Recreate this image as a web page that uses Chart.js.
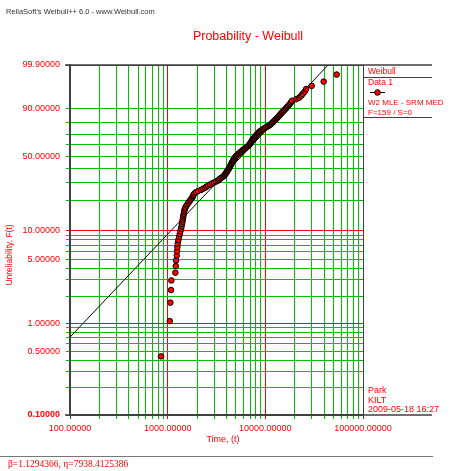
<!DOCTYPE html>
<html>
<head>
<meta charset="utf-8">
<script src="https://cdn.jsdelivr.net/npm/chart.js@4"></script>
<style>
  body { margin: 0; background: #fff; }
  canvas { display: block; }
</style>
</head>
<body>
<canvas id="weibull" width="450" height="471"></canvas>
<script>
// Weibull fit parameters (2-parameter MLE)
const beta = 1.1294366;
const eta = 7938.4125386;

// failure times, ascending (159 failures, no suspensions)
const failureTimes = [
  856, 1051, 1066, 1083, 1091, 1199, 1211, 1219, 1240, 1249,
  1258, 1269, 1287, 1309, 1330, 1349, 1372, 1388, 1404, 1414,
  1428, 1438, 1448, 1462, 1472, 1483, 1507, 1525, 1561, 1599,
  1637, 1676, 1716, 1758, 1799, 1821, 1842, 1886, 1954, 2048,
  2199, 2305, 2416, 2504, 2594, 2719, 2850, 2988, 3132, 3284,
  3362, 3443, 3567, 3670, 3785, 3837, 3892, 3947, 4003, 4060,
  4108, 4157, 4207, 4256, 4306, 4347, 4388, 4429, 4471, 4514,
  4557, 4600, 4645, 4689, 4733, 4789, 4846, 4903, 4962, 5020,
  5116, 5213, 5313, 5414, 5517, 5623, 5730, 5839, 5950, 6064,
  6194, 6327, 6464, 6602, 6744, 6823, 6904, 6987, 7070, 7154,
  7222, 7290, 7359, 7429, 7499, 7606, 7715, 7824, 7937, 8050,
  8165, 8279, 8398, 8517, 8640, 8843, 9057, 9272, 9496, 9721,
  10000, 10287, 10583, 10887, 11199, 11413, 11630, 11852, 12078, 12308,
  12543, 12782, 13026, 13274, 13522, 13780, 14043, 14311, 14584, 14862,
  15217, 15580, 15953, 16334, 16725, 17124, 17534, 17953, 18382, 18822,
  20689, 22202, 23276, 24115, 25278, 26182, 29810, 39564, 53768
];

// axis grid: time (log) and unreliability in %
const xGridTimes = [
  100, 200, 300, 400, 500, 600, 700, 800, 900,
  1000, 2000, 3000, 4000, 5000, 6000, 7000, 8000, 9000,
  10000, 20000, 30000, 40000, 50000, 60000, 70000, 80000, 90000,
  100000
];
const xLabelTimes = [100, 1000, 10000, 100000];
const xRedTimes = [1000, 10000];

const yGridPct = [
  0.1, 0.2, 0.3, 0.4, 0.5, 0.6, 0.7, 0.8, 0.9,
  1, 2, 3, 4, 5, 6, 7, 8, 9,
  10, 20, 30, 40, 50, 60, 70, 80, 90, 99.9
];
const yLabelPct = [0.1, 0.5, 1, 5, 10, 50, 90, 99.9];
const yRedPct = [1, 10];

const RED = '#ff0000';
const GREEN = '#00c000';
const FRAME = '#404040';
const SANS = '"Liberation Sans", Arial, sans-serif';

// Weibull probability paper: y = ln(-ln(1 - F))
function wb(pct) {
  return Math.log(-Math.log(1 - pct / 100));
}

// plotting positions from median ranks (Benard)
const n = failureTimes.length;
const points = failureTimes.map((t, i) => ({
  x: t,
  y: wb((i + 1 - 0.3) / (n + 0.4) * 100)
}));

// fitted line from t = 100 up to F = 99.9%
const tEnd = eta * Math.pow(-Math.log(0.001), 1 / beta);
const fitLine = [100, tEnd].map(t => ({ x: t, y: beta * Math.log(t / eta) }));

const textBlocks = {
  id: 'textBlocks',
  afterDraw(chart) {
    const ctx = chart.ctx;
    const a = chart.chartArea;
    ctx.save();

    // frame extensions and legend box
    ctx.strokeStyle = FRAME;
    ctx.lineWidth = 1.5;
    ctx.beginPath();
    ctx.moveTo(a.left - 5, a.top); ctx.lineTo(432, a.top);
    ctx.moveTo(a.left - 5, a.bottom); ctx.lineTo(432, a.bottom);
    ctx.stroke();
    ctx.lineWidth = 1;
    ctx.beginPath();
    ctx.moveTo(a.right, 77.5); ctx.lineTo(432, 77.5);
    ctx.moveTo(a.right, 117.5); ctx.lineTo(432, 117.5);
    ctx.stroke();
    ctx.strokeStyle = '#777';
    ctx.beginPath();
    ctx.moveTo(0, 456.5); ctx.lineTo(433, 456.5);
    ctx.stroke();

    ctx.textBaseline = 'middle';
    ctx.textAlign = 'left';

    ctx.fillStyle = '#333';
    ctx.font = '7.5px ' + SANS;
    ctx.fillText("ReliaSoft's Weibull++ 6.0 - www.Weibull.com", 6, 12);

    ctx.fillStyle = RED;
    ctx.font = '12.5px ' + SANS;
    ctx.textAlign = 'center';
    ctx.fillText('Probability - Weibull', 248, 37);

    ctx.font = '9px ' + SANS;
    ctx.fillText('Time, (t)', 223, 440);

    ctx.save();
    ctx.translate(10, 255);
    ctx.rotate(-Math.PI / 2);
    ctx.font = '8.5px ' + SANS;
    ctx.fillText('Unreliability, F(t)', 0, 0);
    ctx.restore();

    // legend
    ctx.textAlign = 'left';
    ctx.font = '8.5px ' + SANS;
    ctx.fillText('Weibull', 368, 72);
    ctx.fillText('Data 1', 368, 83);
    ctx.font = '8px ' + SANS;
    ctx.fillText('W2 MLE - SRM MED', 368, 103);
    ctx.fillText('F=159 / S=0', 368, 113);
    ctx.strokeStyle = '#000';
    ctx.beginPath();
    ctx.moveTo(370, 92.5); ctx.lineTo(385, 92.5);
    ctx.stroke();
    ctx.fillStyle = RED;
    ctx.beginPath();
    ctx.arc(377.5, 92.5, 2.8, 0, Math.PI * 2);
    ctx.fill();
    ctx.stroke();

    ctx.fillStyle = RED;
    ctx.font = '9px ' + SANS;
    ctx.fillText('Park', 368, 391);
    ctx.fillText('KILT', 368, 401);
    ctx.fillText('2009-05-18 16:27', 368, 410);

    ctx.font = '9.5px "Liberation Serif", "Times New Roman", serif';
    ctx.fillText('\u03b2=' + beta.toFixed(7) + ', \u03b7=' + eta.toFixed(7), 8, 464);

    ctx.restore();
  }
};

new Chart('weibull', {
  type: 'scatter',
  data: {
    datasets: [
      {
        type: 'line',
        data: fitLine,
        borderColor: '#000',
        borderWidth: 1,
        pointRadius: 0,
        fill: false
      },
      {
        data: points,
        backgroundColor: RED,
        borderColor: '#000',
        borderWidth: 1,
        pointRadius: 2.8
      }
    ]
  },
  options: {
    responsive: false,
    animation: false,
    layout: { padding: { top: 65, right: 87, left: 0, bottom: 0 } },
    plugins: {
      legend: { display: false },
      tooltip: { enabled: false }
    },
    scales: {
      x: {
        type: 'logarithmic',
        min: 100,
        max: 100000,
        afterBuildTicks: s => { s.ticks = xGridTimes.map(v => ({ value: v })); },
        afterFit: s => { s.height = 56; },
        ticks: {
          autoSkip: false,
          maxRotation: 0,
          color: RED,
          padding: 4,
          font: { family: SANS, size: 9 },
          callback: v => xLabelTimes.includes(v) ? v.toFixed(5) : ''
        },
        grid: {
          tickLength: 4,
          color: c => {
            const v = xGridTimes[c.index];
            if (v === 100 || v === 100000) return FRAME;
            return xRedTimes.includes(v) ? RED : GREEN;
          }
        },
        border: { color: FRAME, width: 1.5 }
      },
      y: {
        type: 'linear',
        bounds: 'data',
        min: wb(0.1),
        max: wb(99.9),
        afterBuildTicks: s => { s.ticks = yGridPct.map(p => ({ value: wb(p) })); },
        afterFit: s => { s.width = 70; },
        ticks: {
          autoSkip: false,
          color: RED,
          padding: 6,
          // the bottom label is printed bold
          font: c => ({ family: SANS, size: 9, weight: c.index === 0 ? 'bold' : 'normal' }),
          callback: (v, i) => yLabelPct.includes(yGridPct[i]) ? yGridPct[i].toFixed(5) : ''
        },
        grid: {
          tickLength: 4,
          color: c => {
            const p = yGridPct[c.index];
            if (p === 0.1 || p === 99.9) return FRAME;
            return yRedPct.includes(p) ? RED : GREEN;
          }
        },
        border: { color: FRAME, width: 1.5 }
      }
    }
  },
  plugins: [textBlocks]
});
</script>
</body>
</html>
